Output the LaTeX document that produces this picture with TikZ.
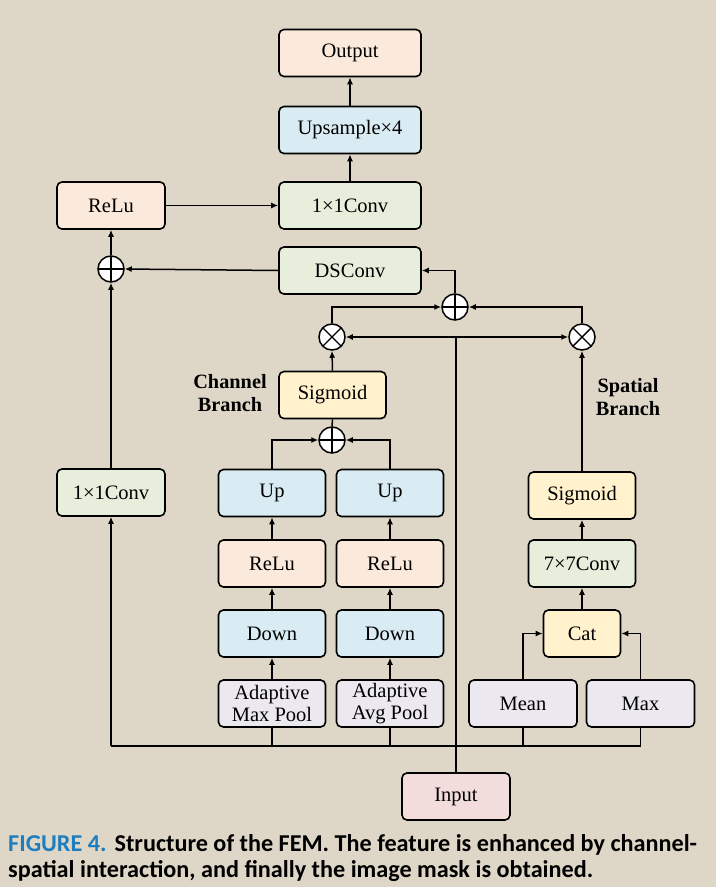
\documentclass[tikz,border=0pt]{standalone}
\usepackage{fontspec}
\setmainfont{Liberation Serif}
\newfontfamily\capfont{Carlito}
\usetikzlibrary{arrows.meta}
\definecolor{bg}{HTML}{DED7C7}
\definecolor{cpeach}{HTML}{FBEADC}
\definecolor{cblue}{HTML}{DAECF3}
\definecolor{cgreen}{HTML}{E8EEDC}
\definecolor{cyellow}{HTML}{FFF2CD}
\definecolor{clav}{HTML}{ECE8F0}
\definecolor{cpink}{HTML}{F2DDDC}
\definecolor{capblue}{HTML}{1F7DBD}
\tikzset{
  box/.style={draw=black, line width=1.6pt, rounded corners=5pt, minimum height=47pt, inner sep=0pt, align=center, font=\fontsize{20.5}{23.5}\selectfont},
  wbig/.style={box, minimum width=142pt},
  wsmall/.style={box, minimum width=107pt},
  opl/.style={circle, draw=black, fill=white, line width=1.5pt, minimum size=26pt, inner sep=0pt,
    path picture={\draw[line width=1.4pt] (path picture bounding box.north) -- (path picture bounding box.south)
      (path picture bounding box.west) -- (path picture bounding box.east);}},
  otm/.style={circle, draw=black, fill=white, line width=1.5pt, minimum size=26pt, inner sep=0pt,
    path picture={\draw[line width=1.4pt] (path picture bounding box.north west) -- (path picture bounding box.south east)
      (path picture bounding box.south west) -- (path picture bounding box.north east);}},
  ln/.style={line width=1.5pt},
  ar/.style={ln, -{Latex[length=7pt,width=6pt]}},
  lbl/.style={align=center, font=\bfseries\fontsize{20.3}{23.5}\selectfont},
  capt/.style={anchor=base west, inner sep=0pt, font=\capfont\bfseries\fontsize{24.2}{28}\selectfont},
}
\begin{document}
\begin{tikzpicture}[x=1pt,y=-1pt]
\useasboundingbox (0,0) rectangle (716,887);
\fill[bg] (0,0) rectangle (716,887);
% top column
\node[wbig, fill=cpeach] (out) at (350,53) {Output};
\node[wbig, fill=cblue] (ups) at (350,130) {Upsample×4};
\node[wbig, fill=cgreen] (conv1) at (350,205.5) {1×1Conv};
\node[box, minimum width=108pt, fill=cpeach] (relu0) at (111,205.5) {ReLu};
\node[wbig, fill=cgreen] (ds) at (350,270.5) {DSConv};
\node[opl] (pl) at (111,269) {};
\node[opl] (pm) at (455,307) {};
\node[otm] (tl) at (332,337) {};
\node[otm] (tr) at (582,337) {};
% channel branch
\node[wsmall, fill=cyellow] (sigc) at (332.5,395) {Sigmoid};
\node[opl] (ps) at (332,440) {};
\node[wsmall, fill=cblue] (upl) at (272,493) {Up};
\node[wsmall, fill=cblue] (upr) at (390,493) {Up};
\node[wsmall, fill=cpeach] (rl) at (272,563.5) {ReLu};
\node[wsmall, fill=cpeach] (rr) at (390,563.5) {ReLu};
\node[wsmall, fill=cblue] (dl) at (272,633.5) {Down};
\node[wsmall, fill=cblue] (dr) at (390,633.5) {Down};
\node[wsmall, fill=clav] (aml) at (272,703.5) {Adaptive\\[-1pt]Max Pool};
\node[wsmall, fill=clav] (aar) at (390,703.5) {Adaptive\\[-1pt]Avg Pool};
% left
\node[box, minimum width=108pt, fill=cgreen] (conv2) at (111,492.5) {1×1Conv};
% spatial branch
\node[wsmall, fill=cyellow] (sigs) at (582,495.5) {Sigmoid};
\node[wsmall, fill=cgreen] (c7) at (582,563.5) {7×7Conv};
\node[box, minimum width=77pt, fill=cyellow] (cat) at (582,633.5) {Cat};
\node[box, minimum width=108pt, fill=clav] (mean) at (523,703.5) {Mean};
\node[box, minimum width=108pt, fill=clav] (mx) at (640.5,703.5) {Max};
\node[box, minimum width=108pt, fill=cpink] (inp) at (456,796.5) {Input};
% labels
\node[lbl] (lc) at (230,393) {Channel\\Branch};
\node[lbl] (lsp) at (628,397) {Spatial\\Branch};
% bus
\coordinate (busL) at (111,746);
\coordinate (busR) at (640.5,746);
\draw[ln] (busL) -- (busR);
\draw[ln] (aml.south) -- (aml.south |- busL);
\draw[ln] (aar.south) -- (aar.south |- busL);
\draw[ln] (mean.south) -- (mean.south |- busL);
\draw[ln] (mx.south) -- (mx.south |- busL);
\draw[ar] (busL) -- (conv2.south);
% input trunk
\coordinate (itop) at (456,337);
\draw[ln] (inp.north) -- (itop);
\draw[ar] (itop) -- (tl.east);
\draw[ar] (itop) -- (tr.west);
% channel branch arrows
\draw[ar] (aml) -- (dl);
\draw[ar] (aar) -- (dr);
\draw[ar] (dl) -- (rl);
\draw[ar] (dr) -- (rr);
\draw[ar] (rl) -- (upl);
\draw[ar] (rr) -- (upr);
\draw[ar] (upl.north) |- (ps.west);
\draw[ar] (upr.north) |- (ps.east);
\draw[ln] (ps.north) -- (sigc.south);
\draw[ar] (sigc.north) -- (tl.south);
\draw[ar] (tl.north) |- (pm.west);
\draw[ar] (tr.north) |- (pm.east);
\draw[ar] (pm.north) |- (ds.east);
% spatial
\draw[ar] (mean.north) |- (cat.west);
\draw[ar] (mx.north) |- (cat.east);
\draw[ar] (cat) -- (c7);
\draw[ar] (c7) -- (sigs);
\draw[ar] (sigs.north) -- (tr.south);
% left column and top
\draw[ar] (conv2.north) -- (pl.south);
\draw[ar] (ds.west) -- (pl.east);
\draw[ar] (pl.north) -- (relu0.south);
\draw[ar] (relu0.east) -- (conv1.west);
\draw[ar] (conv1) -- (ups);
\draw[ar] (ups) -- (out);
% caption
\node[capt] (cap1) at (8,851)
  {\textcolor{capblue}{FIGURE 4.}\hspace{8pt}Structure of the FEM. The feature is enhanced by channel-};
\node[capt] (cap2) at (8,877.5)
  {spatial interaction, and finally the image mask is obtained.};
\end{tikzpicture}
\end{document}
